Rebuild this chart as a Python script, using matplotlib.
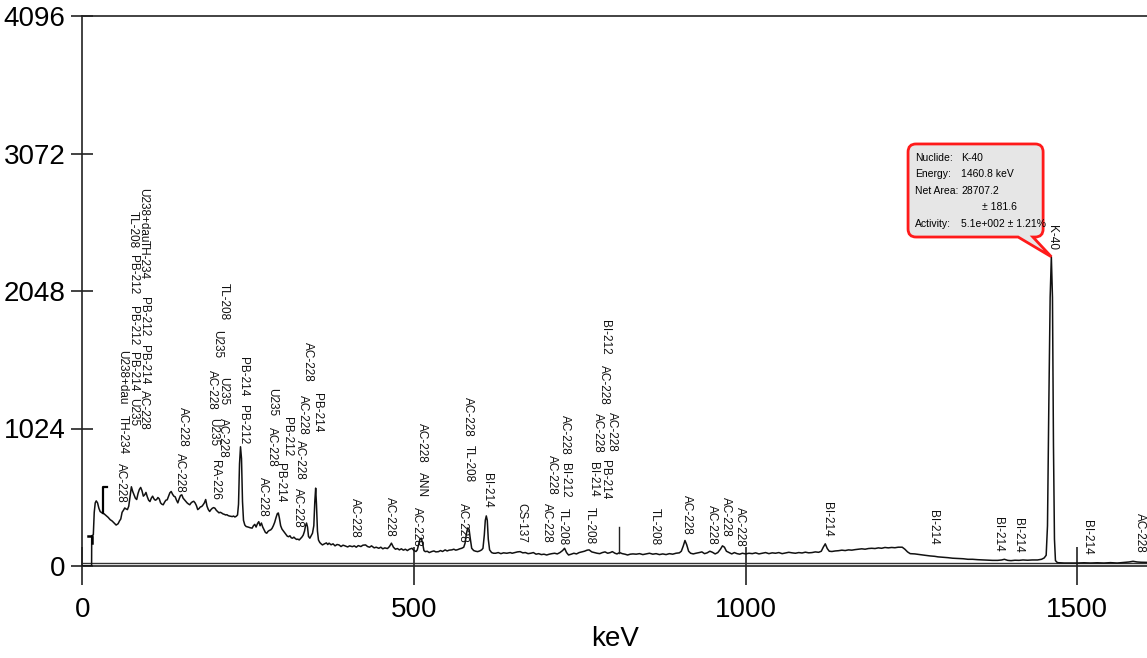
import matplotlib
matplotlib.use('Agg')
import matplotlib.pyplot as plt
from matplotlib.patches import PathPatch
from matplotlib.path import Path

plt.rcParams['font.family'] = ['Liberation Sans', 'DejaVu Sans']

# spectrum (keV, counts)
energy = [0, 13, 14, 14.2, 16.6, 18, 19.5, 21, 23, 25, 27, 30, 33, 36, 39, 42, 45, 48, 51, 54, 56, 58,
          60, 62, 64, 66, 68, 70, 72, 74, 76, 78, 80, 82, 84, 86, 88, 90, 92, 94, 96, 98, 100, 102,
          104, 106, 108, 110, 112, 114, 116, 118, 120,
          122, 124, 126, 128, 130, 132, 134, 136, 138, 140, 142, 144, 146, 148, 150, 152, 154, 156,
          158, 160, 162, 164, 166, 168, 170, 172, 174, 176, 178, 180, 182, 184, 186, 188, 190, 192,
          194, 196, 198, 200, 202, 204, 206, 208, 210, 212, 214, 216, 218, 220, 222, 224, 226, 228,
          230, 232, 234, 235.5, 237, 238.5, 240, 241.5, 243, 245,
          247, 250, 253, 256, 258, 260, 262, 264, 266, 268, 270, 272, 274, 276, 278, 280, 282, 284,
          286, 288, 290, 292, 294, 295.5, 297, 299, 301, 303, 305, 307, 309, 311, 313, 315, 317, 319,
          321, 323, 325, 327, 329, 331, 333, 335, 336.5, 338, 339.5, 341, 343, 345, 347, 349, 350.5,
          351.8, 353, 354.5, 356, 358, 360,
          362, 365, 368, 370, 372, 375, 378, 381, 384, 387, 390, 393, 396, 400, 403, 407, 410, 413,
          416, 420, 423, 427, 430, 433, 436, 440, 443, 447, 450, 453, 456, 460, 463, 466, 469, 472,
          475, 478, 481, 484, 487, 490, 493, 497, 500, 503,
          505, 507, 509, 511, 513, 515, 517,
          520, 523, 527, 530, 533, 537, 540, 543, 547, 550, 553, 557, 560, 563, 566, 569, 572, 575,
          577, 579, 581, 583, 585, 587, 590, 593, 596, 599, 602, 604, 606, 607.5, 609, 610.5, 612,
          614, 617, 620,
          623, 627, 631, 635, 640, 645, 648, 652, 656, 660, 664, 668, 672, 676, 680, 684, 688, 692,
          696, 700, 704, 708, 712, 716, 720, 724, 727, 730, 733, 737, 741, 745, 749, 753, 757, 761,
          764, 768, 772, 776, 780, 784, 788, 792, 796, 799, 803, 806, 810, 814, 818, 822, 826, 830,
          835, 840, 845, 850, 855, 860, 865, 870, 875, 880, 885, 890, 895, 900, 903, 906, 908.5, 911,
          914, 917, 921, 925, 930, 934, 938, 942, 946, 950, 954, 958, 962, 965, 968, 971, 975, 979,
          983, 987, 991, 995, 1000,
          1005, 1010, 1015, 1020, 1025, 1030, 1035, 1040, 1045, 1050, 1055, 1060, 1065, 1070, 1075,
          1080, 1085, 1090, 1095, 1100, 1105, 1110, 1114, 1117, 1120, 1123, 1126, 1130, 1135, 1140,
          1145, 1150, 1155, 1160, 1165, 1170, 1175, 1180, 1185, 1190, 1195, 1200, 1205, 1210, 1215,
          1220, 1225, 1230, 1236, 1240, 1244, 1248,
          1255, 1262, 1270, 1278, 1285, 1290, 1298, 1305, 1312, 1320, 1328, 1335, 1342, 1350, 1358,
          1365, 1372, 1380, 1386, 1390, 1395, 1400, 1406, 1412, 1418, 1425, 1432, 1440, 1446, 1450,
          1453, 1455, 1457, 1459, 1460.8, 1462.5, 1464, 1465.5, 1467, 1470,
          1480, 1490, 1500, 1510, 1520, 1530, 1540, 1550, 1560, 1570, 1578, 1584, 1590, 1596, 1605]
counts = [0, 0, 0, 225, 232, 400, 470, 485, 470, 430, 405, 395, 388, 375, 362, 345, 335, 320, 305, 315,
          335, 350,
          400, 415, 432, 425, 420, 445, 520, 590, 555, 530, 505, 495, 540, 570, 585, 560, 520, 530,
          548, 515, 490, 480, 505, 520, 500, 490, 495, 510, 500, 470, 460,
          456, 475, 490, 493, 520, 545, 555, 535, 520, 515, 490, 470, 500, 525, 530, 505, 493, 480,
          470, 462, 456, 470, 478, 482, 470, 450, 420, 428, 440, 443, 455, 470, 495, 445, 420, 406,
          420, 430, 435, 430, 415, 405, 396, 400, 395, 388, 385, 380, 382, 375, 372, 370, 368, 372,
          365, 370, 380, 460, 760, 888, 800, 480, 340, 305,
          294, 290, 285, 282, 300, 310, 290, 315, 330, 300, 320, 290, 270, 250, 244, 258, 265, 269,
          280, 300, 325, 360, 390, 395, 360, 300, 275, 262, 250, 235, 222, 218, 225, 210, 207, 215,
          205, 198, 200, 194, 205, 215, 230, 260, 300, 320, 290, 220, 207, 225, 244, 300, 480,
          580, 460, 260, 194, 175, 165,
          157, 165, 172, 160, 170, 158, 165, 150, 160, 157, 145, 155, 150, 142, 150, 144, 150, 140,
          152, 145, 155, 157, 145, 140, 150, 135, 140, 132, 140, 128, 135, 130, 145, 170, 140, 125,
          130, 120, 128, 118, 125, 115, 125, 132, 115, 108,
          120, 160, 200, 207, 170, 115, 107,
          110, 100, 108, 112, 105, 107, 115, 108, 120, 112, 118, 120, 125, 118, 122, 128, 132, 140,
          170, 240, 283, 275, 200, 132, 115, 110, 107, 112, 120, 132, 230, 340, 373, 340, 200,
          120, 100, 95,
          95, 100, 92, 98, 95, 100, 95, 100, 105, 107, 98, 100, 92, 95, 100, 88, 92, 85,
          88, 82, 88, 92, 95, 90, 100, 115, 132, 100, 82, 88, 95, 90, 100, 105, 110, 118,
          120, 105, 100, 95, 92, 100, 105, 95, 100, 107, 95, 90, 100, 92, 88, 82, 88, 90,
          88, 92, 85, 90, 95, 88, 92, 85, 90, 85, 92, 88, 95, 98, 110, 150, 190, 160,
          110, 95, 90, 95, 100, 105, 92, 98, 110, 102, 90, 100, 125, 150, 140, 110, 100, 90,
          100, 92, 88, 95, 90,
          95, 92, 98, 90, 95, 100, 92, 98, 95, 100, 92, 97, 102, 98, 95,
          100, 97, 103, 98, 100, 105, 102, 110, 140, 165, 130, 110, 108, 112, 114,
          118, 115, 120, 118, 122, 125, 128, 125, 130, 132, 130, 135, 132, 138, 135,
          138, 136, 140, 140, 125, 105, 92,
          90, 85, 80, 75, 72, 68, 65, 62, 58, 56, 54, 50, 50, 47, 45,
          44, 42, 42, 45, 50, 42, 40, 43, 42, 45, 43, 45, 45, 50, 60,
          80, 300, 1200, 2000, 2303, 2000, 900, 200, 40, 25,
          22, 22, 22, 24, 22, 24, 22, 25, 22, 26, 30, 35, 30, 28, 27]

# nuclide labels: energy, top of label (counts), name
label_kev = [57.9, 60.6, 60.6, 76.4, 76.4, 76.4, 76.4, 76.4, 92.3, 92.3, 92.3, 92.3, 92.3,
             147.3, 152.3, 195.0, 202.6, 212.6, 212.6, 212.6, 197.5, 200.0, 242.7, 242.7,
             272.9, 285.5, 285.5, 298.0, 308.2, 325.6, 328.2, 333.2, 340.7, 353.4,
             411.0, 463.9, 504.2, 511.7, 511.7, 574.4, 582.0, 582.0, 609.7, 662.5,
             700.1, 707.7, 724.7, 727.7, 727.7, 765.4, 770.4, 778.0, 786.6, 788.0, 788.0, 798.2,
             863.4, 912.1, 948.9, 970.5, 991.6, 1122.3, 1283.0, 1381.0, 1411.0, 1514.0, 1594.6,
             1461.5]
label_top = [765, 1609, 1124, 2644, 2316, 1936, 1594, 1251, 2815, 2428, 2003, 1646, 1311,
             839, 1186, 1460, 1757, 2105, 1410, 1100, 1100, 789, 1559, 1199,
             665, 1323, 1037, 767, 1112, 581, 938, 1273, 1670, 1286,
             505, 516, 442, 1063, 702, 467, 1261, 901, 690, 467,
             467, 827, 430, 1124, 765, 442, 777, 1137, 1497, 1832, 789, 1149,
             430, 529, 454, 516, 442, 479, 417, 367, 355, 343, 392,
             2539]
label_text = ['AC-228', 'U238+dau', 'TH-234', 'TL-208', 'PB-212', 'PB-212', 'PB-214', 'U235',
              'U238+dau', 'TH-234', 'PB-212', 'PB-214', 'AC-228',
              'AC-228', 'AC-228', 'AC-228', 'U235', 'TL-208', 'U235', 'AC-228', 'U235',
              'RA-226', 'PB-214', 'PB-212',
              'AC-228', 'U235', 'AC-228', 'PB-214', 'PB-212', 'AC-228', 'AC-228', 'AC-228', 'AC-228',
              'PB-214',
              'AC-228', 'AC-228', 'AC-228', 'AC-228', 'ANN', 'AC-228', 'AC-228', 'TL-208', 'BI-214',
              'CS-137',
              'AC-228', 'AC-228', 'TL-208', 'AC-228', 'BI-212', 'TL-208', 'BI-214', 'AC-228', 'AC-228',
              'BI-212', 'PB-214', 'AC-228',
              'TL-208', 'AC-228', 'AC-228', 'AC-228', 'AC-228', 'BI-214', 'BI-214', 'BI-214', 'BI-214',
              'BI-214', 'AC-228',
              'K-40']

# ROI markers drawn on the spectrum
marker_a_kev = [9, 15, 15]
marker_a_cts = [223, 223, 169]
marker_b_kev = [31.7, 31.7, 36.5]
marker_b_cts = [392, 590, 590]
marker_c_kev = [809.5, 809.5]
marker_c_cts = [100, 293]

# K-40 info box
info_keys = ['Nuclide:', 'Energy:', 'Net Area:', '', 'Activity:']
info_vals = ['K-40', '1460.8 keV', '28707.2', '\u00b1 181.6', '5.1e+002 \u00b1 1.21%']

fig = plt.figure(figsize=(11.47, 6.58), dpi=100)
ax = fig.add_axes([82.3 / 1147, 92 / 658, (1147 - 82.3) / 1147, 550 / 658])

ax.plot(energy, counts, color='#111111', lw=1.1, zorder=3)
ax.plot(marker_a_kev, marker_a_cts, color='black', lw=1.8, zorder=4)
ax.plot(marker_b_kev, marker_b_cts, color='black', lw=1.6, zorder=4)
ax.plot(marker_c_kev, marker_c_cts, color='#222222', lw=1.0, zorder=4)
ax.axhline(25, color='#333333', lw=1.0, zorder=2)

for k, top, txt in zip(label_kev, label_top, label_text):
    ax.text(k, top, txt, rotation=270, ha='center', va='top', fontsize=8.5,
            color='#111111', zorder=5, clip_on=False)

# callout box with pointer to the K-40 peak
x0, x1, y0, y1 = 1244.8, 1448.4, 2450, 3143
rx, ry = 12, 60
tip = (1460.8, max(counts))
verts = [(x0 + rx, y1), (x1 - rx, y1), (x1, y1), (x1, y1 - ry), (x1, y0 + ry), (x1, y0),
         (x1 - rx, y0), (1433.0, y0), tip, (1410.7, y0), (x0 + rx, y0), (x0, y0), (x0, y0 + ry),
         (x0, y1 - ry), (x0, y1), (x0 + rx, y1), (x0 + rx, y1)]
codes = [Path.MOVETO, Path.LINETO, Path.CURVE3, Path.CURVE3, Path.LINETO, Path.CURVE3,
         Path.CURVE3, Path.LINETO, Path.LINETO, Path.LINETO, Path.LINETO, Path.CURVE3,
         Path.CURVE3, Path.LINETO, Path.CURVE3, Path.CURVE3, Path.CLOSEPOLY]
ax.add_patch(PathPatch(Path(verts, codes), facecolor='#e6e6e6', edgecolor='#ff1a1a',
                       lw=2.0, zorder=6, clip_on=False))

row_y = [3038, 2919, 2793, 2673, 2547]
for i, (key, val) in enumerate(zip(info_keys, info_vals)):
    ax.text(1255, row_y[i], key, fontsize=7.5, va='center', ha='left', zorder=7)
    vx = 1356 if key == '' else 1325
    ax.text(vx, row_y[i], val, fontsize=7.5, va='center', ha='left', zorder=7)

ax.set_xlim(0, 1605)
ax.set_ylim(0, 4096)
ax.set_xticks([0, 500, 1000, 1500])
ax.set_yticks([0, 1024, 2048, 3072, 4096])
ax.tick_params(axis='x', direction='inout', length=28, width=1.2, labelsize=20, pad=8,
               color='#222222')
ax.tick_params(axis='y', direction='inout', length=16, width=1.2, labelsize=20, pad=4,
               color='#222222')
ax.spines['right'].set_visible(False)
for side in ['left', 'bottom', 'top']:
    ax.spines[side].set_color('#222222')
    ax.spines[side].set_linewidth(1.2)

ax.set_xlabel('keV', fontsize=20)
ax.xaxis.set_label_coords(0.5, -0.11)

fig.savefig('out.png', dpi=100)
